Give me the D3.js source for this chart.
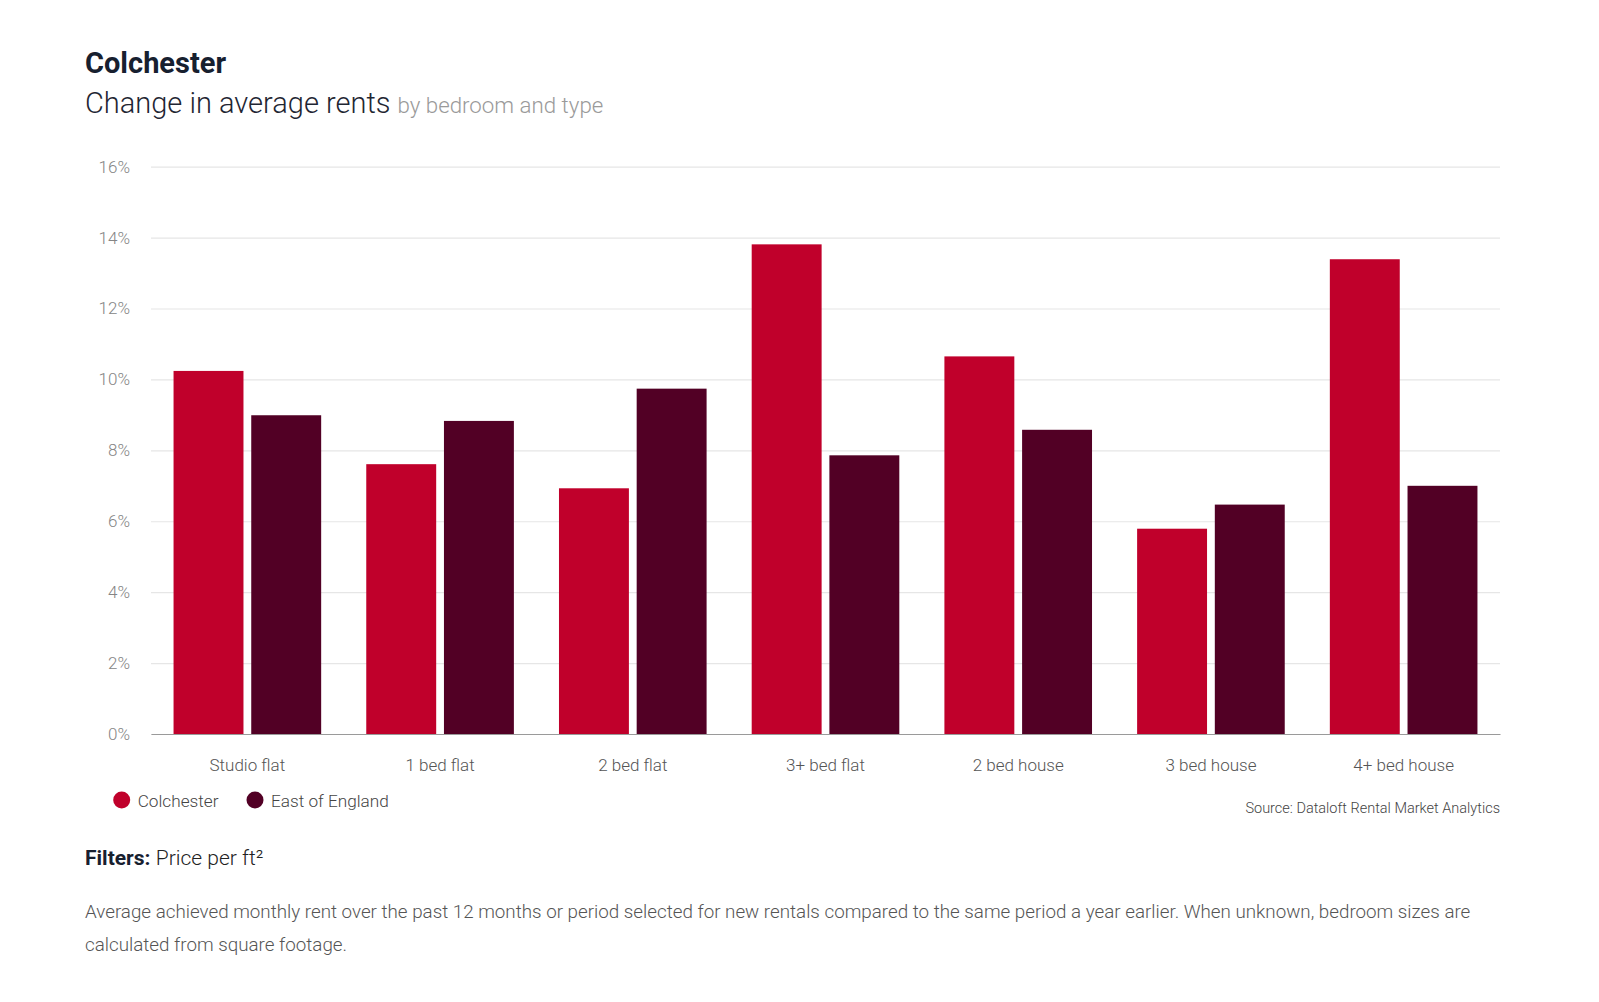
<!DOCTYPE html>
<html>
<head>
<meta charset="utf-8">
<script src="https://cdn.jsdelivr.net/npm/d3@7"></script>
<style>
  html, body { margin: 0; padding: 0; background: #fff; }
  svg { display: block; font-family: Roboto, "Noto Sans", sans-serif; }
</style>
</head>
<body>
<svg id="chart" width="1599" height="1002"></svg>
<script>
const categories = ["Studio flat", "1 bed flat", "2 bed flat", "3+ bed flat", "2 bed house", "3 bed house", "4+ bed house"];
const seriesNames = ["Colchester", "East of England"];
const colchester = [10.24, 7.61, 6.93, 13.81, 10.65, 5.79, 13.39];
const eastOfEngland = [8.99, 8.83, 9.74, 7.86, 8.58, 6.47, 7.00];
const yTicks = [0, 2, 4, 6, 8, 10, 12, 14, 16];
const seriesColors = ["#c0002b", "#520025"];

(function () {
const svg = d3.select("#chart");
const plotLeft = 151, plotRight = 1500, plotTop = 166.7, plotBottom = 734;

const x0 = d3.scaleBand().domain(categories).range([plotLeft, plotRight]).paddingInner(0.234).paddingOuter(0.117);
const x1 = d3.scaleBand().domain(seriesNames).range([0, x0.bandwidth()]).paddingInner(0.1);
const y = d3.scaleLinear().domain([0, 16]).range([plotBottom, plotTop]);

// Title
svg.append("text").attr("x", 85).attr("y", 72.5)
  .attr("font-size", 29).attr("font-weight", 700).attr("fill", "#17202f").text("Colchester");
const sub = svg.append("text").attr("x", 85).attr("y", 112.5);
sub.append("tspan").attr("font-size", 29).attr("font-weight", 300).attr("fill", "#1f2633").text("Change in average rents ");
sub.append("tspan").attr("font-size", 22.3).attr("font-weight", 300).attr("fill", "#9a9a9a").text("by bedroom and type");

// Gridlines + y axis
const yAxis = d3.axisLeft(y).tickValues(yTicks).tickFormat(d => d + "%").tickSize(-(plotRight - plotLeft)).tickPadding(21);
const gy = svg.append("g").attr("transform", `translate(${plotLeft},0)`).call(yAxis);
gy.select(".domain").remove();
gy.selectAll(".tick line").attr("stroke", "#e6e6e6").attr("stroke-width", 1.2);
gy.selectAll(".tick text").attr("font-size", 17).attr("fill", "#858585").attr("font-family", "Roboto").attr("font-weight", 300);

// Bars
const data = categories.map((c, i) => ({ cat: c, vals: [colchester[i], eastOfEngland[i]] }));
const groups = svg.append("g").selectAll("g").data(data).join("g")
  .attr("transform", d => `translate(${x0(d.cat)},0)`);
groups.selectAll("rect").data(d => d.vals.map((v, j) => ({ key: seriesNames[j], v, j })))
  .join("rect")
  .attr("x", d => x1(d.key))
  .attr("width", x1.bandwidth())
  .attr("y", d => y(d.v))
  .attr("height", d => y(0) - y(d.v))
  .attr("fill", d => seriesColors[d.j]);

// X axis
const xAxis = d3.axisBottom(x0).tickSize(0).tickPadding(25);
const gx = svg.append("g").attr("transform", `translate(0,${plotBottom})`).call(xAxis);
gx.select(".domain").attr("stroke", "#9a9a9a").attr("stroke-width", 1.2);
gx.selectAll(".tick text").attr("font-size", 17).attr("fill", "#555").attr("font-family", "Roboto").attr("font-weight", 300);

// Legend
const legendX = [121.7, 255];
const lg = svg.append("g").selectAll("g").data(seriesNames).join("g")
  .attr("transform", (d, i) => `translate(${legendX[i]},800)`);
lg.append("circle").attr("r", 8.5).attr("fill", (d, i) => seriesColors[i]);
lg.append("text").attr("x", 16).attr("y", 6.5).attr("font-size", 17.2).attr("fill", "#444").attr("font-weight", 300).text(d => d);

// Source
svg.append("text").attr("x", plotRight).attr("y", 813).attr("text-anchor", "end")
  .attr("font-size", 14.5).attr("fill", "#444").attr("font-weight", 300).text("Source: Dataloft Rental Market Analytics");

// Filters
const f = svg.append("text").attr("x", 85).attr("y", 864.5).attr("font-size", 21);
f.append("tspan").attr("font-weight", 700).attr("fill", "#17202f").text("Filters: ");
f.append("tspan").attr("font-weight", 300).attr("fill", "#222").text("Price per ft²");

// Description
const desc = svg.append("text").attr("font-size", 18.8).attr("font-weight", 300).attr("fill", "#555");
desc.append("tspan").attr("x", 85).attr("y", 918)
  .text("Average achieved monthly rent over the past 12 months or period selected for new rentals compared to the same period a year earlier. When unknown, bedroom sizes are");
desc.append("tspan").attr("x", 85).attr("y", 950.5).text("calculated from square footage.");
})();
</script>
</body>
</html>
